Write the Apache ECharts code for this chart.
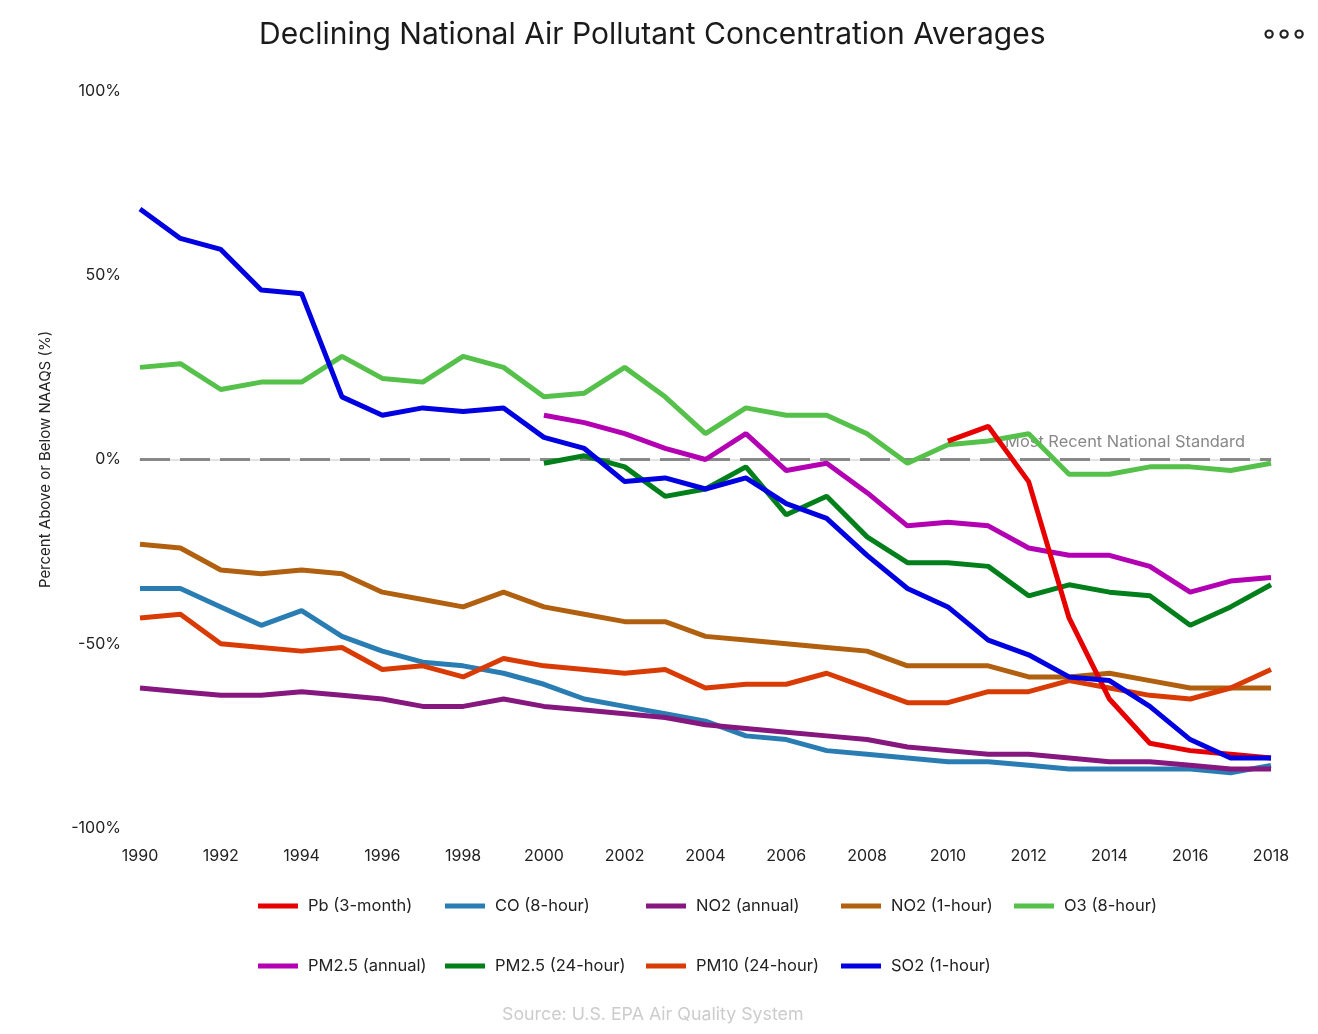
<!DOCTYPE html>
<html>
<head>
<meta charset="utf-8">
<script src="https://cdn.jsdelivr.net/npm/echarts@6/dist/echarts.min.js"></script>
<style>
html,body{margin:0;padding:0;background:#fff;}
#chart{width:1318px;height:1034px;}
</style>
</head>
<body>
<div id="chart"></div>
<script>
const years = ['1990','1991','1992','1993','1994','1995','1996','1997','1998','1999','2000','2001','2002','2003','2004','2005','2006','2007','2008','2009','2010','2011','2012','2013','2014','2015','2016','2017','2018'];

const pb3month   = [null,null,null,null,null,null,null,null,null,null,null,null,null,null,null,null,null,null,null,null,5,9,-6,-43,-65,-77,-79,-80,-81];
const co8hour    = [-35,-35,-40,-45,-41,-48,-52,-55,-56,-58,-61,-65,-67,-69,-71,-75,-76,-79,-80,-81,-82,-82,-83,-84,-84,-84,-84,-85,-83];
const no2annual  = [-62,-63,-64,-64,-63,-64,-65,-67,-67,-65,-67,-68,-69,-70,-72,-73,-74,-75,-76,-78,-79,-80,-80,-81,-82,-82,-83,-84,-84];
const no21hour   = [-23,-24,-30,-31,-30,-31,-36,-38,-40,-36,-40,-42,-44,-44,-48,-49,-50,-51,-52,-56,-56,-56,-59,-59,-58,-60,-62,-62,-62];
const o38hour    = [25,26,19,21,21,28,22,21,28,25,17,18,25,17,7,14,12,12,7,-1,4,5,7,-4,-4,-2,-2,-3,-1];
const pm25annual = [null,null,null,null,null,null,null,null,null,null,12,10,7,3,0,7,-3,-1,-9,-18,-17,-18,-24,-26,-26,-29,-36,-33,-32];
const pm2524hour = [null,null,null,null,null,null,null,null,null,null,-1,1,-2,-10,-8,-2,-15,-10,-21,-28,-28,-29,-37,-34,-36,-37,-45,-40,-34];
const pm1024hour = [-43,-42,-50,-51,-52,-51,-57,-56,-59,-54,-56,-57,-58,-57,-62,-61,-61,-58,-62,-66,-66,-63,-63,-60,-62,-64,-65,-62,-57];
const so21hour   = [68,60,57,46,45,17,12,14,13,14,6,3,-6,-5,-8,-5,-12,-16,-26,-35,-40,-49,-53,-59,-60,-67,-76,-81,-81];

const seriesNames = ['Pb (3-month)','CO (8-hour)','NO2 (annual)','NO2 (1-hour)','O3 (8-hour)','PM2.5 (annual)','PM2.5 (24-hour)','PM10 (24-hour)','SO2 (1-hour)'];
const standardLabel = 'Most Recent National Standard';
const yTicks = [-100,-50,0,50,100];

const colors = {
  'Pb (3-month)':'#e60000',
  'CO (8-hour)':'#2a7db3',
  'NO2 (annual)':'#85177f',
  'NO2 (1-hour)':'#b0600f',
  'O3 (8-hour)':'#55c04a',
  'PM2.5 (annual)':'#b300b3',
  'PM2.5 (24-hour)':'#007f1a',
  'PM10 (24-hour)':'#d93b05',
  'SO2 (1-hour)':'#0000e0'
};
const dataMap = {
  'Pb (3-month)':pb3month,
  'CO (8-hour)':co8hour,
  'NO2 (annual)':no2annual,
  'NO2 (1-hour)':no21hour,
  'O3 (8-hour)':o38hour,
  'PM2.5 (annual)':pm25annual,
  'PM2.5 (24-hour)':pm2524hour,
  'PM10 (24-hour)':pm1024hour,
  'SO2 (1-hour)':so21hour
};
const drawOrder = ['CO (8-hour)','NO2 (annual)','NO2 (1-hour)','O3 (8-hour)','PM2.5 (annual)','PM2.5 (24-hour)','PM10 (24-hour)','Pb (3-month)','SO2 (1-hour)'];

const FONT = 'Inter, "Noto Sans", sans-serif';

const series = drawOrder.map((name, i) => {
  const s = {
    name: name,
    type: 'line',
    data: dataMap[name],
    showSymbol: false,
    symbol: 'none',
    connectNulls: false,
    lineStyle: {width: 5, color: colors[name]},
    itemStyle: {color: colors[name]},
    emphasis: {disabled: true},
    z: 3 + i
  };
  if (i === 0) {
    s.markLine = {
      silent: true,
      symbol: 'none',
      z: 2,
      lineStyle: {type: [30, 10], width: 3, color: '#888888'},
      label: {
        show: true,
        position: 'insideEndTop',
        formatter: standardLabel,
        color: '#888888',
        fontSize: 16.4,
        fontFamily: FONT,
        distance: [26, 9]
      },
      data: [{yAxis: 0}]
    };
  }
  return s;
});

const legendCols = [
  {left: 253, names: ['Pb (3-month)','PM2.5 (annual)']},
  {left: 440, names: ['CO (8-hour)','PM2.5 (24-hour)']},
  {left: 641, names: ['NO2 (annual)','PM10 (24-hour)']},
  {left: 836, names: ['NO2 (1-hour)','SO2 (1-hour)']},
  {left: 1009, names: ['O3 (8-hour)']}
];
const legends = legendCols.map(c => ({
  orient: 'vertical',
  left: c.left,
  top: 891,
  itemWidth: 40,
  itemHeight: 5,
  itemGap: 40,
  icon: 'rect',
  selectedMode: false,
  data: c.names,
  textStyle: {fontSize: 16.5, color: '#222', fontFamily: FONT, lineHeight: 20, padding: [0,0,0,5]}
}));

const option = {
  backgroundColor: '#ffffff',
  animation: false,
  title: [
    {
      text: 'Declining National Air Pollutant Concentration Averages',
      left: 254,
      top: 15,
      textStyle: {fontSize: 30, fontWeight: 'normal', color: '#1a1a1a', fontFamily: FONT}
    },
    {
      text: 'Source: U.S. EPA Air Quality System',
      left: 497,
      top: 1001,
      textStyle: {fontSize: 17.8, fontWeight: 'normal', color: '#cccccc', fontFamily: FONT}
    }
  ],
  legend: legends,
  grid: {left: 140, right: 47, top: 91, bottom: 206, containLabel: false},
  xAxis: {
    type: 'category',
    data: years,
    boundaryGap: false,
    axisLine: {show: true, lineStyle: {color: '#e3e3e3', width: 2}},
    axisTick: {show: false},
    axisLabel: {interval: 1, fontSize: 16, color: '#222', fontFamily: FONT, margin: 20},
    splitLine: {show: false}
  },
  yAxis: {
    type: 'value',
    min: yTicks[0],
    max: yTicks[yTicks.length - 1],
    interval: 50,
    name: 'Percent Above or Below NAAQS (%)',
    nameLocation: 'middle',
    nameGap: 87,
    nameTextStyle: {fontSize: 15, color: '#222', fontFamily: FONT},
    axisLine: {show: false},
    axisTick: {show: false},
    splitLine: {show: false},
    axisLabel: {formatter: '{value}%', fontSize: 16, color: '#222', fontFamily: FONT, margin: 19}
  },
  graphic: [
    {type: 'circle', left: 1263, top: 28, shape: {r: 3.6}, style: {fill: 'none', stroke: '#222', lineWidth: 2.2}},
    {type: 'circle', left: 1278, top: 28, shape: {r: 3.6}, style: {fill: 'none', stroke: '#222', lineWidth: 2.2}},
    {type: 'circle', left: 1293, top: 28, shape: {r: 3.6}, style: {fill: 'none', stroke: '#222', lineWidth: 2.2}}
  ],
  series: series
};

const chart = echarts.init(document.getElementById('chart'), null, {renderer: 'canvas'});
chart.setOption(option);
</script>
</body>
</html>
